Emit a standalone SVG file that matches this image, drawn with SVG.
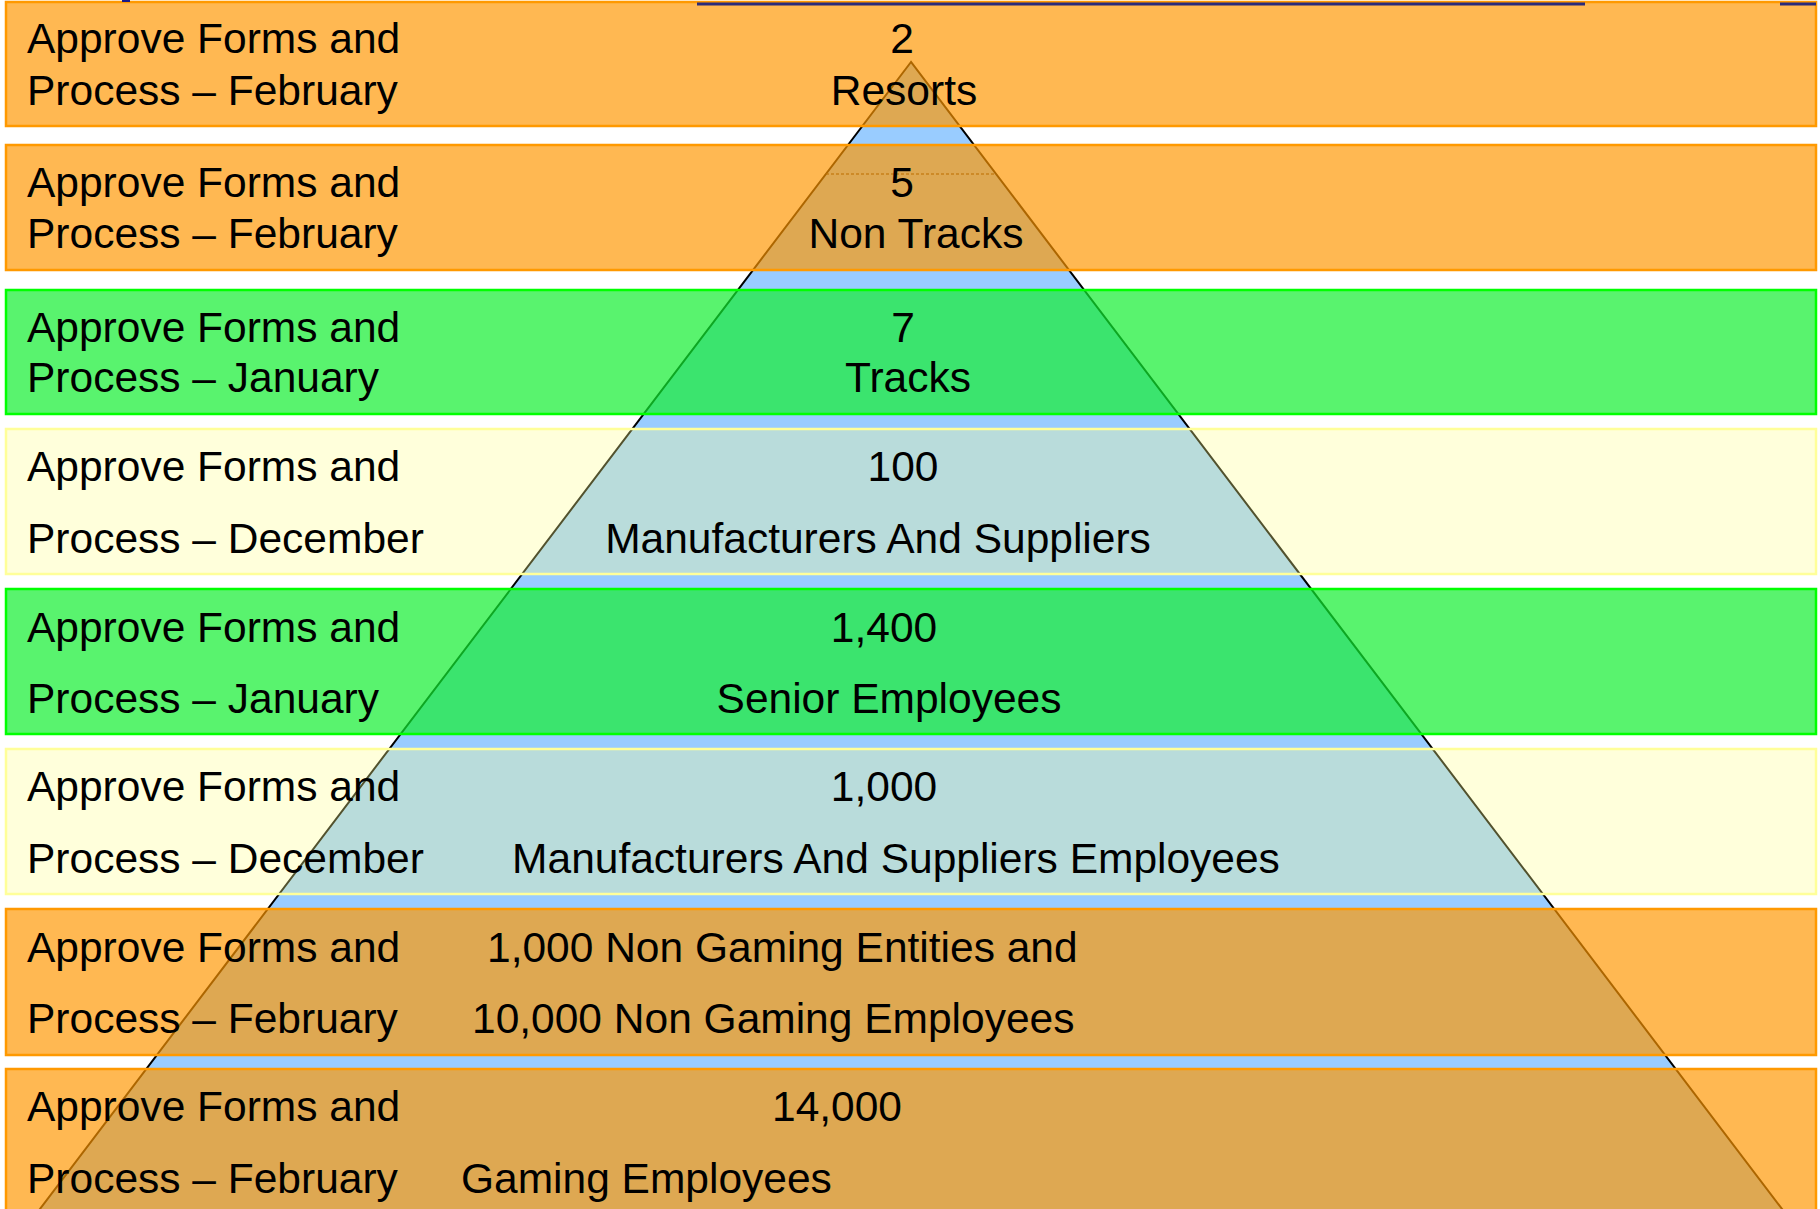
<svg xmlns="http://www.w3.org/2000/svg" width="1820" height="1209" viewBox="0 0 1820 1209">
  <style>
    .t { font-family: "Liberation Sans", Arial, sans-serif; font-size: 42.5px; fill: #000; }
    .m { text-anchor: middle; }
    .orange { fill: #FF9600; fill-opacity: 0.68; stroke: #FF9900; stroke-width: 2.5; }
    .green { fill: #12EE30; fill-opacity: 0.7; stroke: #00FF00; stroke-width: 2.5; }
    .yellow { fill: #FFFF90; fill-opacity: 0.32; stroke: #FFFF99; stroke-width: 2.5; }
    .div { stroke: #3a2a10; stroke-width: 1.5; stroke-dasharray: 3 2; stroke-opacity: 0.75; }
  </style>
  <rect x="0" y="0" width="1820" height="1209" fill="#FFFFFF"/>
  <g id="pyramid">
    <polygon points="911,62 24,1230 1798,1230" fill="#99CCFF" stroke="#000" stroke-width="2"/>
    <line class="div" x1="826" y1="174" x2="996" y2="174"/>
    <line class="div" x1="157" y1="1055" x2="1665" y2="1055"/>
  </g>
  <g id="connectors"></g>
  <g id="band1">
    <rect class="orange" x="6" y="2" width="1810" height="124"/>
    <text class="t" x="27" y="53">Approve Forms and</text>
    <text class="t" x="27" y="105">Process – February</text>
    <text class="t m" x="902" y="53">2</text>
    <text class="t m" x="904" y="105">Resorts</text>
  </g>
  <g id="band2">
    <rect class="orange" x="6" y="145" width="1810" height="125"/>
    <text class="t" x="27" y="197">Approve Forms and</text>
    <text class="t" x="27" y="248">Process – February</text>
    <text class="t m" x="902" y="197">5</text>
    <text class="t m" x="916" y="248">Non Tracks</text>
  </g>
  <g id="band3">
    <rect class="green" x="6" y="290" width="1810" height="124"/>
    <text class="t" x="27" y="342">Approve Forms and</text>
    <text class="t" x="27" y="392">Process – January</text>
    <text class="t m" x="903" y="342">7</text>
    <text class="t m" x="908" y="392">Tracks</text>
  </g>
  <g id="band4">
    <rect class="yellow" x="6" y="429" width="1810" height="145"/>
    <text class="t" x="27" y="481">Approve Forms and</text>
    <text class="t" x="27" y="553">Process – December</text>
    <text class="t m" x="903" y="481">100</text>
    <text class="t m" x="878" y="553">Manufacturers And Suppliers</text>
  </g>
  <g id="band5">
    <rect class="green" x="6" y="589" width="1810" height="145"/>
    <text class="t" x="27" y="642">Approve Forms and</text>
    <text class="t" x="27" y="713">Process – January</text>
    <text class="t m" x="884" y="642">1,400</text>
    <text class="t m" x="889" y="713">Senior Employees</text>
  </g>
  <g id="band6">
    <rect class="yellow" x="6" y="749" width="1810" height="145"/>
    <text class="t" x="27" y="801">Approve Forms and</text>
    <text class="t" x="27" y="873">Process – December</text>
    <text class="t m" x="884" y="801">1,000</text>
    <text class="t m" x="896" y="873">Manufacturers And Suppliers Employees</text>
  </g>
  <g id="band7">
    <rect class="orange" x="6" y="909" width="1810" height="146"/>
    <text class="t" x="27" y="962">Approve Forms and</text>
    <text class="t" x="27" y="1033">Process – February</text>
    <text class="t" x="487" y="962">1,000 Non Gaming Entities and</text>
    <text class="t" x="472" y="1033">10,000 Non Gaming Employees</text>
  </g>
  <g id="band8">
    <rect class="orange" x="6" y="1069" width="1810" height="160"/>
    <text class="t" x="27" y="1121">Approve Forms and</text>
    <text class="t" x="27" y="1193">Process – February</text>
    <text class="t m" x="837" y="1121">14,000</text>
    <text class="t" x="461" y="1193">Gaming Employees</text>
  </g>
  <g id="header">
    <rect x="122" y="0" width="8" height="2" fill="#1a1a8a"/>
    <rect x="697" y="2.5" width="888" height="3" fill="#2a2a7a"/>
    <rect x="1780" y="2.5" width="36" height="3" fill="#2a2a7a"/>
  </g>
</svg>
